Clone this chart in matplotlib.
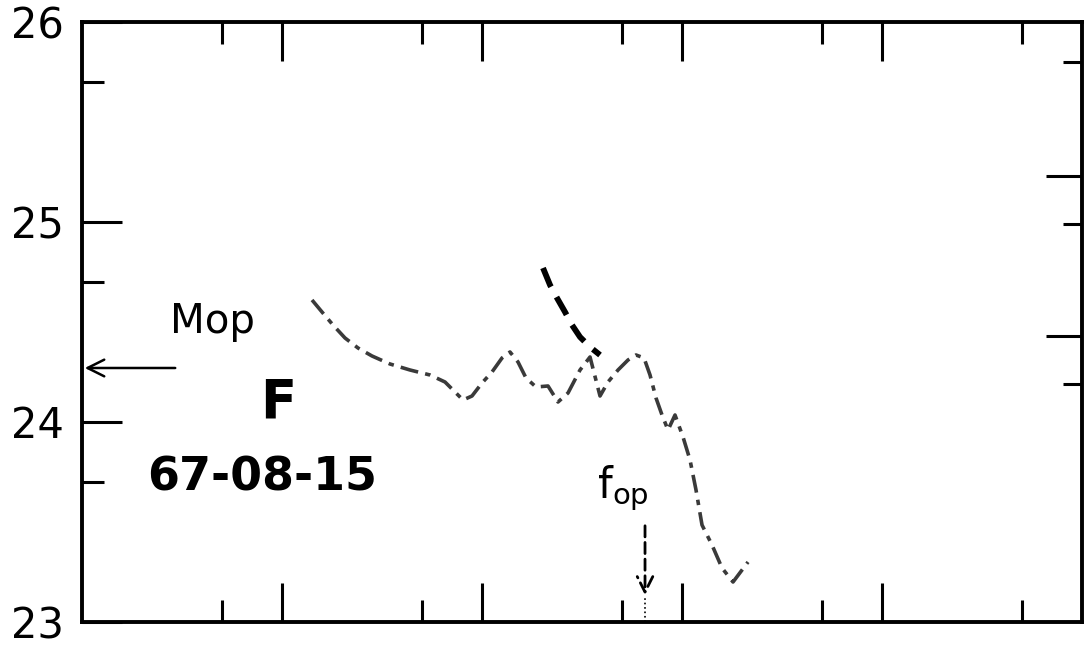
import matplotlib.pyplot as plt

# scanned ionogram-style plot: both axes are in log units (decades)
trace_x = [1.150, 1.200, 1.255, 1.315, 1.380, 1.450, 1.540, 1.640, 1.740, 1.815,
           1.865, 1.905, 1.950, 2.000, 2.050, 2.100, 2.140, 2.180, 2.220, 2.270,
           2.330, 2.380, 2.430, 2.490, 2.540, 2.590, 2.630, 2.680, 2.730, 2.770,
           2.810, 2.840, 2.870, 2.900, 2.930, 2.965, 3.005, 3.040, 3.070, 3.100,
           3.150, 3.200, 3.255, 3.330]
trace_y = [24.610, 24.550, 24.485, 24.420, 24.370, 24.330, 24.290, 24.260, 24.235, 24.200,
           24.150, 24.110, 24.130, 24.195, 24.250, 24.320, 24.350, 24.300, 24.220, 24.175,
           24.180, 24.100, 24.145, 24.260, 24.325, 24.130, 24.200, 24.260, 24.310, 24.335,
           24.320, 24.235, 24.120, 24.035, 23.960, 24.035, 23.925, 23.810, 23.660, 23.485,
           23.385, 23.270, 23.200, 23.300]

upper_x = [2.305, 2.340, 2.375, 2.415, 2.450, 2.490, 2.540, 2.590]
upper_y = [24.770, 24.685, 24.620, 24.550, 24.485, 24.425, 24.375, 24.335]

y_major = [23, 24, 25, 26]
y_minor = [23.7, 24.7, 25.7]
x_major = [1, 2, 3, 4]
x_minor = [0.7, 1.7, 2.7, 3.7, 4.7]
right_major = [25.23, 24.43]
right_minor = [25.8, 24.99, 24.19]

m_op = 24.27
f_op = 2.815

fig = plt.figure(figsize=(10.89, 6.52), dpi=100)
ax = fig.add_axes([0.0753, 0.046, 0.9183, 0.9203])
ax.set_xlim(0, 5)
ax.set_ylim(23, 26)

ax.plot(trace_x, trace_y, color="#3a3a3a", linewidth=2.6,
        linestyle=(0, (5, 2, 1.5, 2)), solid_capstyle="round")
ax.plot(upper_x, upper_y, color="black", linewidth=4.2,
        linestyle=(0, (3.5, 2.0)))

for side in ax.spines.values():
    side.set_linewidth(2.8)

ax.set_xticks(x_major)
ax.set_xticks(x_minor, minor=True)
ax.set_yticks(y_major)
ax.set_yticks(y_minor, minor=True)
ax.tick_params(axis="x", which="both", direction="in", top=True, bottom=True,
               labelbottom=False, width=2.2)
ax.tick_params(axis="x", which="major", length=28)
ax.tick_params(axis="x", which="minor", length=16)
ax.tick_params(axis="y", which="both", direction="in", left=True, right=False,
               width=2.2, labelsize=30, pad=13)
ax.tick_params(axis="y", which="major", length=29)
ax.tick_params(axis="y", which="minor", length=16)

ax2 = ax.twinx()
ax2.set_ylim(23, 26)
ax2.set_yticks(right_major)
ax2.set_yticks(right_minor, minor=True)
ax2.tick_params(axis="y", which="both", direction="in", labelright=False, width=2.2)
ax2.tick_params(axis="y", which="major", length=26)
ax2.tick_params(axis="y", which="minor", length=14)
for side in ax2.spines.values():
    side.set_visible(False)

# annotations
ax.annotate("", xy=(0.0, m_op), xytext=(0.48, m_op),
            arrowprops=dict(arrowstyle="->", color="black", lw=1.8,
                            mutation_scale=30))
ax.text(0.44, 24.445, "Mop", fontsize=29, va="baseline", ha="left")
ax.text(0.89, 24.02, "F", fontsize=38, fontweight="bold", va="baseline", ha="left")
ax.text(0.325, 23.66, "67-08-15", fontsize=33, fontweight="bold",
        va="baseline", ha="left")
ax.text(2.575, 23.62, "f$_{\\mathregular{op}}$", fontsize=30, va="baseline", ha="left")
ax.annotate("", xy=(f_op, 23.12), xytext=(f_op, 23.495),
            arrowprops=dict(arrowstyle="->", color="black", lw=2.0,
                            linestyle=(0, (4, 2)), mutation_scale=28))
ax.plot([f_op, f_op], [23.0, 23.12], color="black", linewidth=1.2, linestyle=":")

fig.savefig("out.png", dpi=100)
